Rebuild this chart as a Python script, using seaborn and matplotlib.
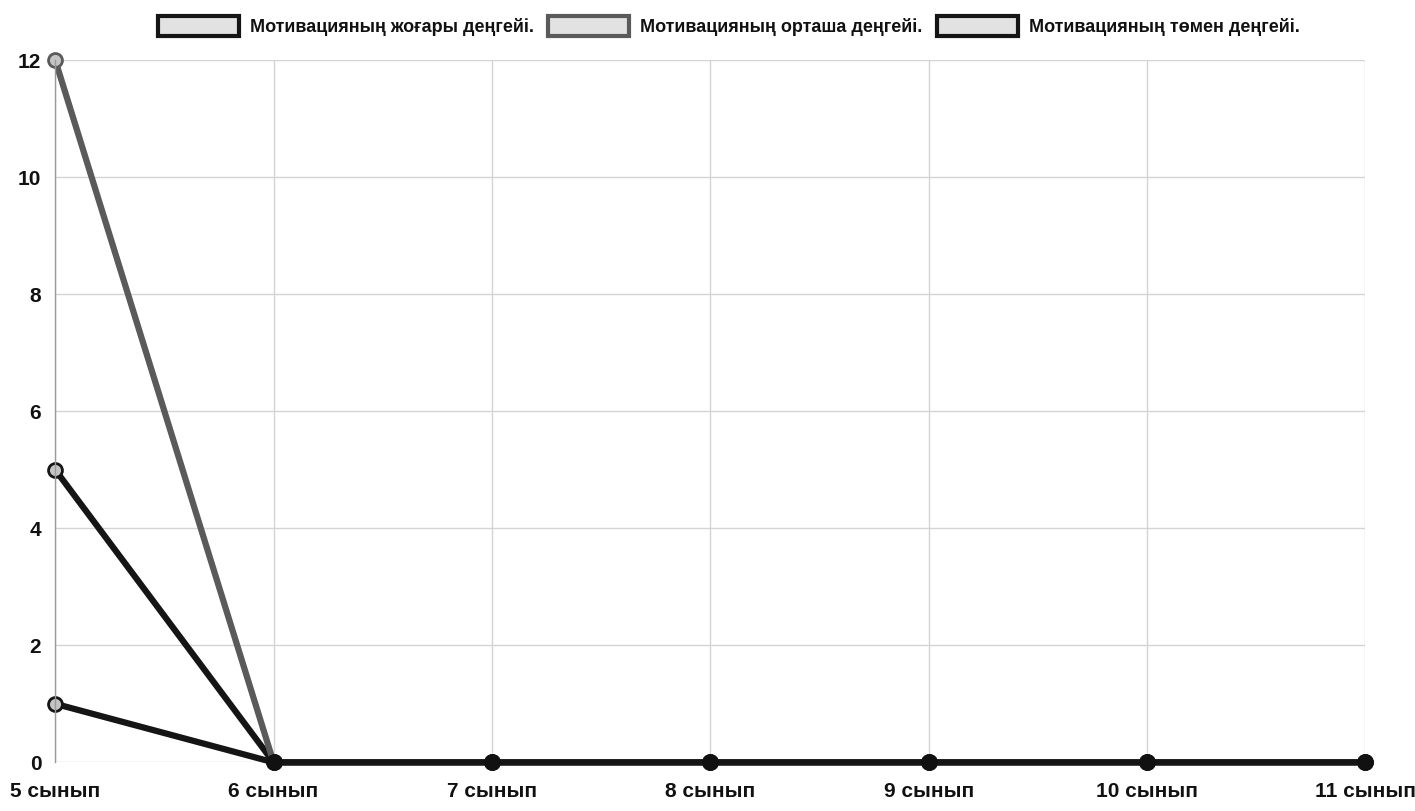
import numpy as np
import pandas as pd
import matplotlib
matplotlib.use('Agg')
import matplotlib.pyplot as plt
import seaborn as sns
from matplotlib.patches import Patch

# data
grades = ['5 сынып', '6 сынып', '7 сынып', '8 сынып', '9 сынып', '10 сынып', '11 сынып']
series_names = ['Мотивацияның жоғары деңгейі.',
                'Мотивацияның орташа деңгейі.',
                'Мотивацияның төмен деңгейі.']
high_vals = [5, 0, 0, 0, 0, 0, 0]
mid_vals = [12, 0, 0, 0, 0, 0, 0]
low_vals = [1, 0, 0, 0, 0, 0, 0]
line_colors = ['#151515', '#5a5a5a', '#151515']

df = pd.DataFrame({
    'grade': grades * 3,
    'value': high_vals + mid_vals + low_vals,
    'level': [series_names[0]] * 7 + [series_names[1]] * 7 + [series_names[2]] * 7,
})

sns.set_theme(style='whitegrid')
plt.rcParams['font.family'] = ['Liberation Sans', 'DejaVu Sans']

fig = plt.figure(figsize=(14.15, 8.11), dpi=100)
ax = fig.add_axes([0.039, 0.06, 0.926, 0.866])

sns.lineplot(data=df, x='grade', y='value', hue='level', palette=line_colors,
             linewidth=4.5, marker='o', markersize=10, ax=ax, legend=False, sort=False)
for ln in ax.lines:
    ln.set_markerfacecolor('#c4c4c4')
    ln.set_markeredgecolor(ln.get_color())
    ln.set_markeredgewidth(2)
# markers at overlapping zero points look solid in the print
zero = df[df['value'] == 0]
sns.scatterplot(data=zero, x='grade', y='value', color='#111111', s=110,
                edgecolor='#111111', ax=ax, legend=False, zorder=5)
for art in ax.lines + ax.collections:
    art.set_clip_on(False)

ax.set_xlim(0, len(grades) - 1)
ax.set_ylim(0, 12)
ax.set_yticks(range(0, 13, 2))
ax.set_xlabel('')
ax.set_ylabel('')
ax.grid(True, color='#d4d4d4', linewidth=1)
for side in ['top', 'right', 'bottom']:
    ax.spines[side].set_visible(False)
ax.spines['left'].set_color('#999999')
ax.spines['left'].set_linewidth(1)
ax.tick_params(axis='x', labelsize=15, pad=14, length=0)
ax.tick_params(axis='y', labelsize=15, pad=10, length=0)
for lab in ax.get_xticklabels() + ax.get_yticklabels():
    lab.set_fontweight('bold')
    lab.set_color('#111111')

handles = [Patch(facecolor='#e2e2e2', edgecolor=c, linewidth=3, label=n)
           for n, c in zip(series_names, line_colors)]
leg = fig.legend(handles=handles, loc='upper center', bbox_to_anchor=(0.515, 1.0),
                 ncol=3, frameon=False, fontsize=13, handlelength=4.5,
                 handleheight=1.3, columnspacing=0.8, handletextpad=0.6)
for t in leg.get_texts():
    t.set_fontweight('bold')
    t.set_color('#111111')

fig.savefig('out.png', dpi=100)
